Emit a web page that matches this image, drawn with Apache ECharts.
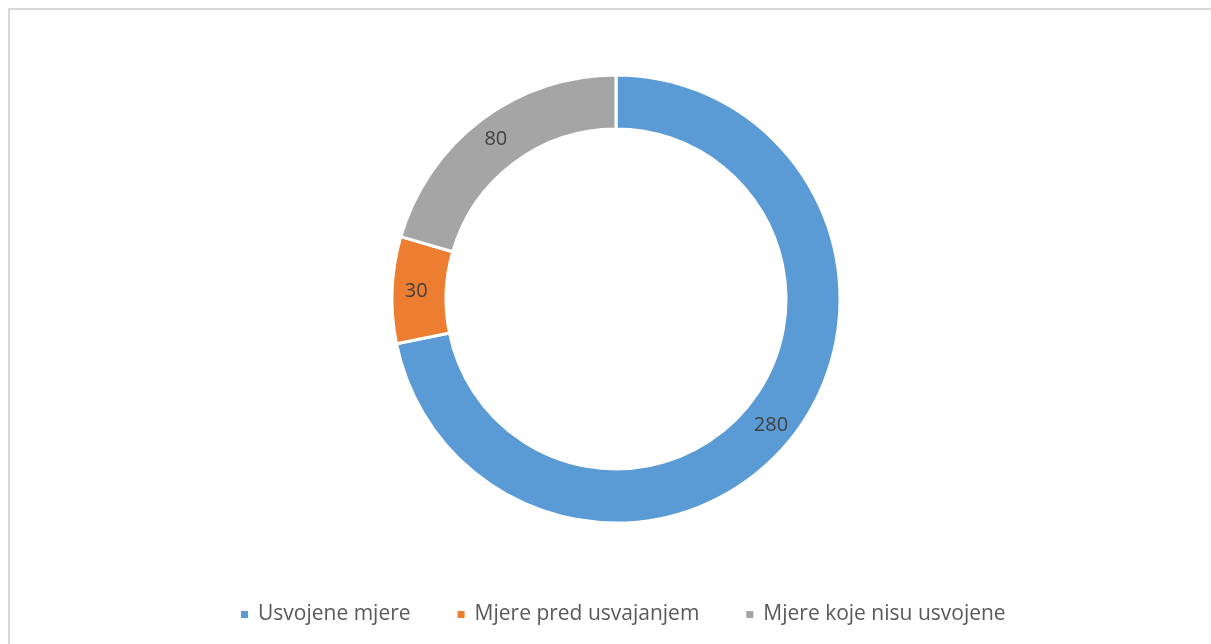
<!DOCTYPE html>
<html>
<head>
<meta charset="utf-8">
<script src="https://cdn.jsdelivr.net/npm/echarts@6/dist/echarts.min.js"></script>
<style>
  html, body { margin: 0; padding: 0; background: #fff; }
  #frame { position: absolute; left: 8px; top: 8px; width: 1220px; height: 660px; border-left: 2px solid #d9d9d9; border-top: 2px solid #d9d9d9; }
  #chart { position: absolute; left: 0; top: 0; width: 1211px; height: 644px; }
</style>
</head>
<body>
<div id="frame"></div>
<div id="chart"></div>
<script>
const categories = ['Usvojene mjere', 'Mjere pred usvajanjem', 'Mjere koje nisu usvojene']
const values = [280, 30, 80]
const colors = ['#5b9bd5', '#ed7d31', '#a5a5a5']

const chart = echarts.init(document.getElementById('chart'))

chart.setOption({
  color: colors,
  animation: false,
  textStyle: { fontFamily: 'Open Sans, sans-serif' },
  legend: {
    data: categories,
    bottom: 14,
    left: 234,
    icon: 'rect',
    itemWidth: 9,
    itemHeight: 9,
    itemGap: 45,
    textStyle: { color: '#595959', fontSize: 21, padding: [0, 0, 0, 4] },
  },
  series: [
    {
      type: 'pie',
      center: [616, 299],
      radius: [170, 224],
      startAngle: 90,
      clockwise: true,
      itemStyle: { borderColor: '#fff', borderWidth: 3 },
      label: {
        show: true,
        position: 'inside',
        formatter: '{c}',
        color: '#404040',
        fontSize: 20,
      },
      labelLine: { show: false },
      emphasis: { disabled: true },
      data: categories.map((name, i) => ({ name, value: values[i] })),
    },
  ],
})
</script>
</body>
</html>
